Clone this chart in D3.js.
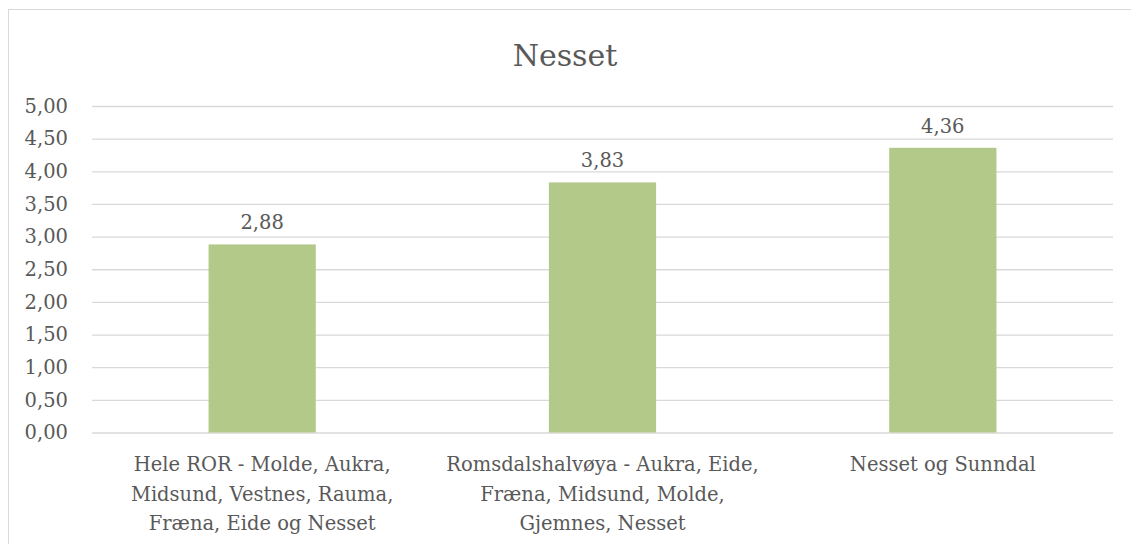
<!DOCTYPE html>
<html>
<head>
<meta charset="utf-8">
<script src="https://cdn.jsdelivr.net/npm/d3@7"></script>
<style>
  body { margin: 0; background: #fff; }
  text { font-family: "DejaVu Serif", "Liberation Serif", serif; fill: #595959; }
</style>
</head>
<body>
<div class="chart"></div>
<script>
// data
const title = "Nesset";
const categories = [
  "Hele ROR - Molde, Aukra, Midsund, Vestnes, Rauma, Fræna, Eide og Nesset",
  "Romsdalshalvøya - Aukra, Eide, Fræna, Midsund, Molde, Gjemnes, Nesset",
  "Nesset og Sunndal"
];
const values = [2.88, 3.83, 4.36];
const yTicks = [0, 0.5, 1, 1.5, 2, 2.5, 3, 3.5, 4, 4.5, 5];

const w = 1131;
const h = 544;
const plotLeft = 92, plotRight = 1113, plotTop = 106, plotBottom = 432.5;
const labelSize = "19.5px";

const fmt = d => d3.format(".2f")(d).replace(".", ",");

const svg = d3.select(".chart")
  .append("svg")
  .attr("width", w)
  .attr("height", h);

// chart border
svg.append("rect")
  .attr("x", 8.5)
  .attr("y", 9.5)
  .attr("width", 1140)
  .attr("height", 560)
  .attr("fill", "none")
  .attr("stroke", "#d9d9d9");

svg.append("text")
  .attr("x", 565)
  .attr("y", 66)
  .attr("text-anchor", "middle")
  .style("font-size", "30px")
  .text(title);

// scales
const xScale = d3.scaleBand()
  .domain(categories)
  .range([plotLeft, plotRight])
  .paddingInner(0.685)
  .paddingOuter(0.3425);

const yScale = d3.scaleLinear()
  .domain([0, 5])
  .range([plotBottom, plotTop]);

// gridlines + y labels
const yAxis = d3.axisLeft(yScale)
  .tickValues(yTicks)
  .tickSize(-(plotRight - plotLeft))
  .tickPadding(24)
  .tickFormat(fmt);

const gy = svg.append("g")
  .attr("transform", "translate(" + plotLeft + ",0)")
  .call(yAxis);
gy.select(".domain").remove();
gy.selectAll("line").attr("stroke", "#d9d9d9").attr("stroke-width", 1.3);
gy.selectAll("text").style("font-size", labelSize).attr("fill", "#595959");

// bars
svg.selectAll(".bar")
  .data(values)
  .enter()
  .append("rect")
  .attr("class", "bar")
  .attr("x", (d, i) => xScale(categories[i]))
  .attr("y", d => yScale(d))
  .attr("width", xScale.bandwidth())
  .attr("height", d => yScale(0) - yScale(d))
  .attr("fill", "#b3c98a");

// value labels
svg.selectAll(".val")
  .data(values)
  .enter()
  .append("text")
  .attr("class", "val")
  .attr("x", (d, i) => xScale(categories[i]) + xScale.bandwidth() / 2)
  .attr("y", d => yScale(d) - 15)
  .attr("text-anchor", "middle")
  .style("font-size", labelSize)
  .text(d => fmt(d));

// x axis labels
const xAxis = d3.axisBottom(xScale).tickSize(0).tickPadding(0);
const gx = svg.append("g")
  .attr("transform", "translate(0," + plotBottom + ")")
  .call(xAxis);
gx.select(".domain").remove();
gx.selectAll("text")
  .style("font-size", labelSize)
  .attr("fill", "#595959")
  .attr("dy", null)
  .call(wrap, 320);

function wrap(texts, width) {
  texts.each(function () {
    const text = d3.select(this);
    const words = text.text().split(/\s+/);
    text.text(null);
    let line = [];
    let lineNo = 0;
    let tspan = text.append("tspan").attr("x", 0).attr("y", 38.5);
    words.forEach(word => {
      line.push(word);
      tspan.text(line.join(" "));
      if (tspan.node().getComputedTextLength() > width && line.length > 1) {
        line.pop();
        tspan.text(line.join(" "));
        line = [word];
        lineNo++;
        tspan = text.append("tspan").attr("x", 0).attr("y", 38.5 + lineNo * 29.5).text(word);
      }
    });
  });
}
</script>
</body>
</html>
